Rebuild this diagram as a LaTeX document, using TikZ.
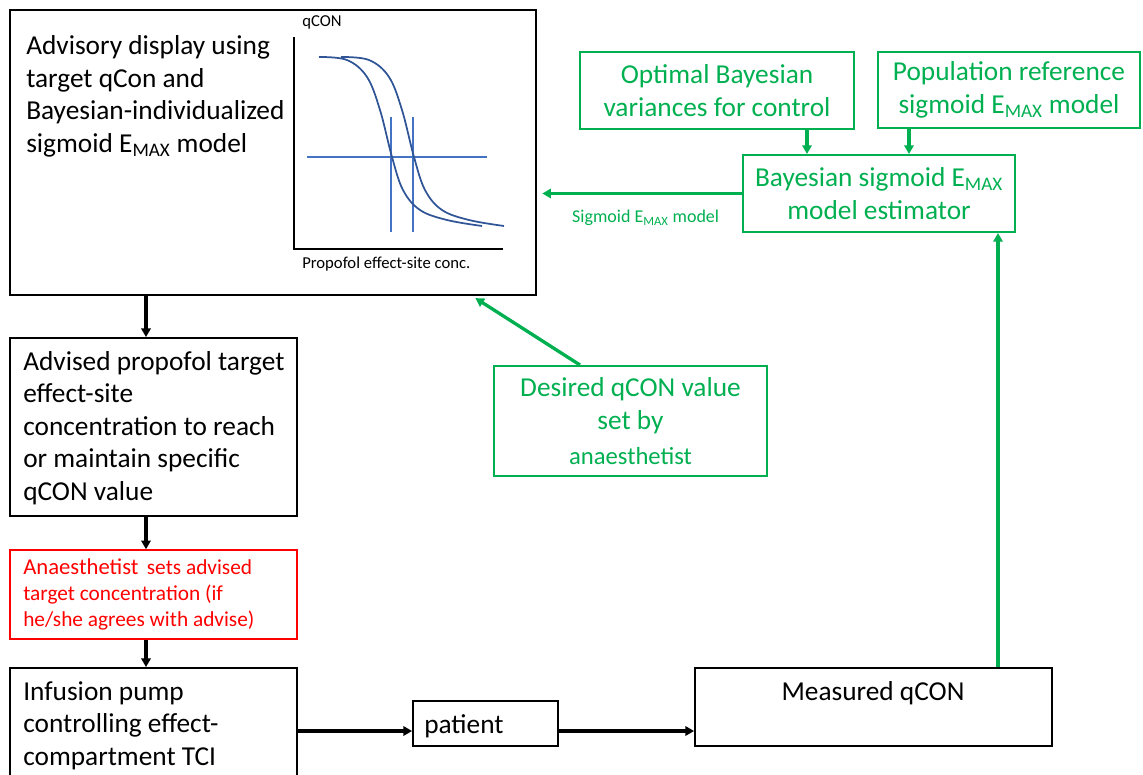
\documentclass[tikz,border=0pt]{standalone}
\usepackage{fontspec}
\setmainfont{Carlito}
\usetikzlibrary{arrows.meta, calc}
\definecolor{ppgreen}{RGB}{0,176,80}
\definecolor{ppred}{RGB}{255,0,0}
\definecolor{guideblue}{RGB}{68,114,196}
\definecolor{curveblue}{RGB}{47,85,151}
\def\pxu{0.75pt}
\tikzset{
    box/.style={draw=black, line width=1.4pt, inner sep=0pt},
    redbox/.style={draw=ppred, line width=1.1pt, inner sep=0pt},
    greenbox/.style={draw=ppgreen, line width=1.5pt, inner sep=0pt, text=ppgreen,
        align=center, font=\fontsize{20.5}{24.3}\selectfont},
    bodytext/.style={anchor=base west, inner sep=0pt, align=left,
        font=\fontsize{20.5}{24.3}\selectfont},
    redtext/.style={anchor=base west, inner sep=0pt, align=left, text=ppred,
        font=\fontsize{16}{19.5}\selectfont},
    smalltext/.style={anchor=base west, inner sep=0pt, font=\fontsize{12.5}{14}\selectfont},
    blackarrow/.style={->, line width=2.3pt},
    greenarrow/.style={->, draw=ppgreen, line width=2.5pt},
    axis/.style={line width=1.5pt},
    guide/.style={draw=guideblue, line width=1.3pt},
    curve/.style={draw=curveblue, line width=1.3pt}
}
\begin{document}
\begin{tikzpicture}[x=0.75pt, y=-0.75pt, >={Triangle[length=6.5pt,width=7pt]}]
    \useasboundingbox (0,0) rectangle (1143,775);

    % left column (text nodes sit on the baseline of their last line)
    \node[box, minimum width=526*\pxu, minimum height=285*\pxu] (display) at (273,152.5) {};
    \node[bodytext] (displaytext) at (26,152)
        {Advisory display using\\target qCon and\\Bayesian-individualized\\sigmoid E\textsubscript{MAX} model};

    \node[box, minimum width=287*\pxu, minimum height=178*\pxu] (advised) at (153.5,427) {};
    \node[bodytext] (advisedtext) at (23,500)
        {Advised propofol target\\effect-site\\concentration to reach\\or maintain specific\\qCON value};

    \node[redbox, minimum width=287*\pxu, minimum height=89*\pxu] (sets) at (153.5,594.5) {};
    \node[redtext] (setstext) at (23,626)
        {{\fontsize{17}{19.5}\selectfont Anaesthetist}\, sets advised\\target concentration (if\\he/she agrees with advise)};

    \node[box, minimum width=287*\pxu, minimum height=140*\pxu] (pump) at (153.5,738) {};
    \node[bodytext] (pumptext) at (23,765)
        {Infusion pump\\controlling effect-\\compartment TCI};

    % bottom row
    \node[box, minimum width=145*\pxu, minimum height=45*\pxu] (patient) at (485.5,723.5) {};
    \node[bodytext] (patienttext) at (424,733) {patient};

    \node[box, minimum width=357*\pxu, minimum height=78*\pxu] (measured) at (873.5,707) {};
    \node[bodytext, anchor=base] (measuredtext) at (873,700) {Measured qCON};

    % sigmoid chart
    \draw[axis] (294,37) -- (294,249) -- (503,249);
    \node[smalltext] (ylabel) at (302,26) {qCON};
    \node[smalltext] (xlabel) at (302,268) {Propofol effect-site conc.};
    \draw[guide] (307,157) -- (487,157);
    \foreach \xv in {391,413}
    {
        \draw[guide] (\xv,117) -- (\xv,232);
    }
    \foreach \dx in {0,22}
    {
        \draw[curve, xshift=\dx*\pxu] plot[smooth, tension=0.6] coordinates
            {(319,57) (347,60) (367,77) (380,110) (392,157) (403,190) (420,210) (447,220) (482,226)};
    }

    % estimator part
    \node[greenbox, minimum width=274*\pxu, minimum height=77*\pxu] (optimal) at (717,90.5)
        {Optimal Bayesian\\variances for control};
    \node[greenbox, minimum width=262*\pxu, minimum height=76*\pxu] (population) at (1009,90)
        {Population reference\\sigmoid E\textsubscript{MAX} model};
    \node[greenbox, minimum width=272*\pxu, minimum height=77*\pxu] (estimator) at (879,193.5)
        {Bayesian sigmoid E\textsubscript{MAX}\\model estimator};
    \node[greenbox, minimum width=273*\pxu, minimum height=110*\pxu] (desired) at (630.5,421)
        {Desired qCON value\\set by\\[2pt]{\fontsize{18.5}{20}\selectfont anaesthetist}};

    % connectors
    \draw[blackarrow] (display.south -| 146,0) -- (advised.north -| 146,0);
    \draw[blackarrow] (advised.south -| 146,0) -- (sets.north -| 146,0);
    \draw[blackarrow] (sets.south -| 146,0) -- (pump.north -| 146,0);
    \draw[blackarrow] (pump.east |- 0,731) -- (patient.west |- 0,731);
    \draw[blackarrow] (patient.east |- 0,731) -- (measured.west |- 0,731);

    \draw[greenarrow] (optimal.south -| 807,0) -- (estimator.north -| 807,0);
    \draw[greenarrow] (population.south -| 909,0) -- (estimator.north -| 909,0);
    \draw[greenarrow] (measured.north -| 998,0) -- (estimator.south -| 998,0);
    \draw[greenarrow, shorten >=4pt] (estimator.west) -- (display.east |- estimator.west)
        node[pos=0.47, below=11pt, text=ppgreen, inner sep=0pt, font=\fontsize{13.5}{15}\selectfont]
        (modellabel) {Sigmoid E\textsubscript{MAX} model};
    \draw[greenarrow, shorten >=3pt] (desired.north -| 580,0) -- (display.south -| 472,0);
\end{tikzpicture}
\end{document}
